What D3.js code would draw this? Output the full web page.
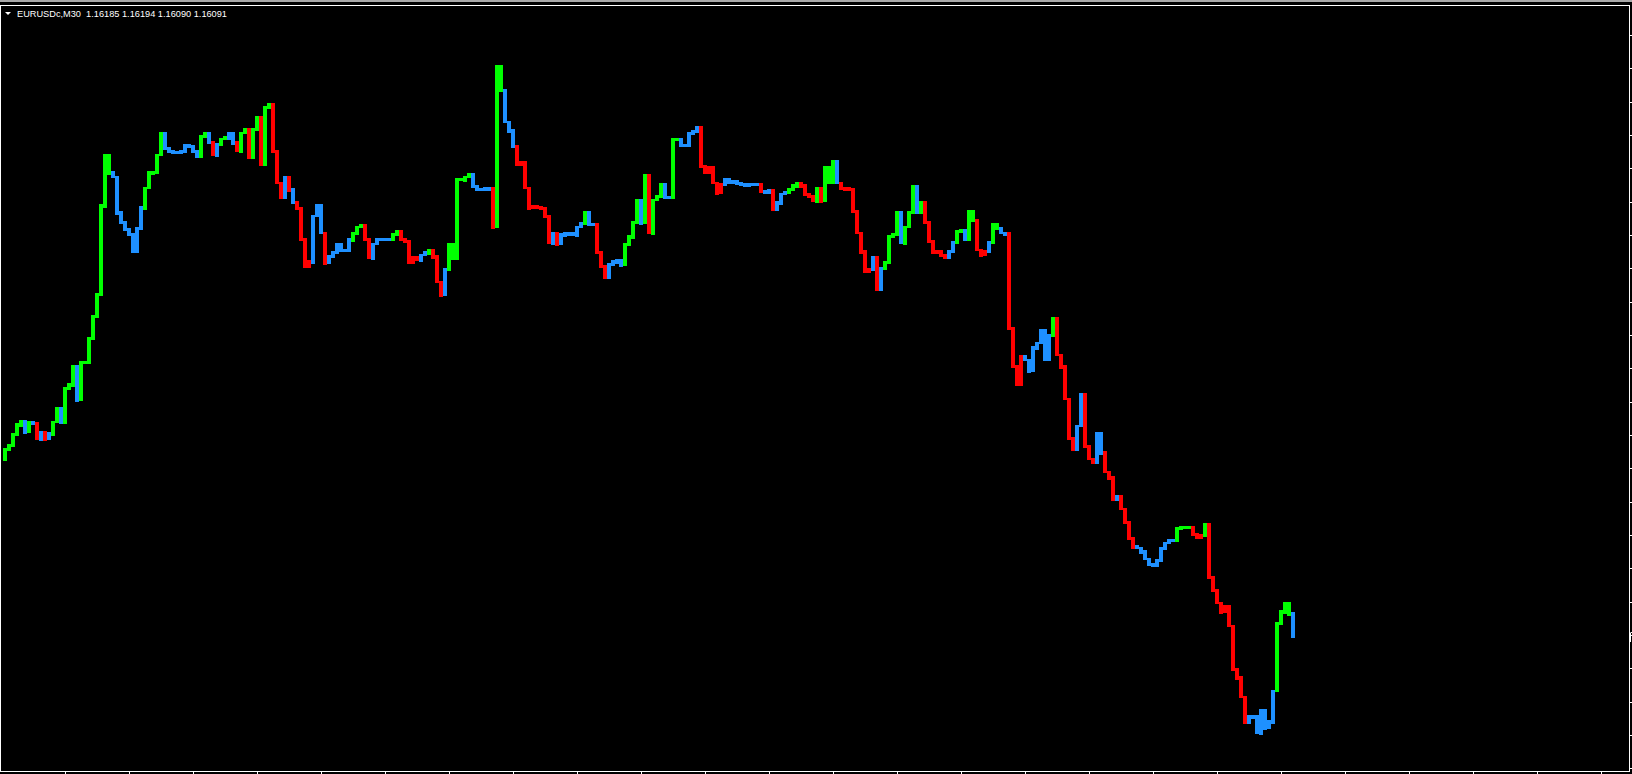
<!DOCTYPE html>
<html>
<head>
<meta charset="utf-8">
<script src="https://cdn.jsdelivr.net/npm/d3@7"></script>
<style>
  html, body { margin: 0; padding: 0; background: #000; overflow: hidden; }
  svg { display: block; }
</style>
</head>
<body>
<svg id="chart"></svg>
<script>
const width = 1632;
const height = 774;

// chart header
const headerText = "EURUSDc,M30  1.16185 1.16194 1.16090 1.16091";

// open of the first bar, then the close of every M30 bar
const firstOpen = 1.16800;
const closes = [
  1.16840, 1.16856, 1.16900, 1.16940, 1.16956, 1.16912, 1.16948, 1.16944, 1.16884, 1.16912,
  1.16884, 1.16904, 1.16952, 1.17004, 1.16948, 1.17084, 1.17100, 1.17176, 1.17040, 1.17188,
  1.17188, 1.17284, 1.17372, 1.17460, 1.17816, 1.18020, 1.17948, 1.17932, 1.17788, 1.17748,
  1.17720, 1.17700, 1.17632, 1.17724, 1.17808, 1.17888, 1.17948, 1.17952, 1.18020, 1.18104,
  1.18044, 1.18032, 1.18028, 1.18028, 1.18032, 1.18056, 1.18052, 1.18032, 1.18012, 1.18092,
  1.18104, 1.18068, 1.18020, 1.18064, 1.18084, 1.18088, 1.18108, 1.18068, 1.18036, 1.18108,
  1.18120, 1.18008, 1.18120, 1.18168, 1.17980, 1.18208, 1.18220, 1.18032, 1.17908, 1.17852,
  1.17932, 1.17880, 1.17828, 1.17804, 1.17680, 1.17572, 1.17592, 1.17776, 1.17816, 1.17708,
  1.17588, 1.17612, 1.17628, 1.17660, 1.17636, 1.17636, 1.17680, 1.17708, 1.17732, 1.17736,
  1.17680, 1.17608, 1.17664, 1.17680, 1.17680, 1.17680, 1.17680, 1.17700, 1.17712, 1.17680,
  1.17672, 1.17588, 1.17608, 1.17600, 1.17620, 1.17628, 1.17640, 1.17612, 1.17512, 1.17460,
  1.17560, 1.17660, 1.17604, 1.17920, 1.17920, 1.17932, 1.17940, 1.17892, 1.17880, 1.17880,
  1.17884, 1.17888, 1.17732, 1.18372, 1.18276, 1.18152, 1.18116, 1.18052, 1.17980, 1.17988,
  1.17888, 1.17808, 1.17812, 1.17808, 1.17804, 1.17772, 1.17668, 1.17708, 1.17664, 1.17700,
  1.17708, 1.17704, 1.17700, 1.17732, 1.17744, 1.17788, 1.17740, 1.17740, 1.17628, 1.17572,
  1.17528, 1.17580, 1.17592, 1.17600, 1.17580, 1.17660, 1.17692, 1.17752, 1.17840, 1.17748,
  1.17936, 1.17708, 1.17840, 1.17852, 1.17900, 1.17848, 1.17848, 1.18080, 1.18080, 1.18056,
  1.18056, 1.18104, 1.18112, 1.18128, 1.17972, 1.17948, 1.17968, 1.17908, 1.17868, 1.17900,
  1.17920, 1.17908, 1.17912, 1.17904, 1.17900, 1.17896, 1.17900, 1.17900, 1.17900, 1.17872,
  1.17868, 1.17876, 1.17800, 1.17828, 1.17864, 1.17868, 1.17880, 1.17896, 1.17908, 1.17896,
  1.17860, 1.17852, 1.17836, 1.17888, 1.17836, 1.17968, 1.17908, 1.17992, 1.17908, 1.17888,
  1.17884, 1.17880, 1.17792, 1.17708, 1.17632, 1.17552, 1.17560, 1.17608, 1.17480, 1.17564,
  1.17588, 1.17692, 1.17700, 1.17788, 1.17668, 1.17732, 1.17788, 1.17892, 1.17788, 1.17828,
  1.17748, 1.17672, 1.17628, 1.17632, 1.17616, 1.17608, 1.17632, 1.17668, 1.17712, 1.17716,
  1.17680, 1.17792, 1.17756, 1.17640, 1.17620, 1.17632, 1.17668, 1.17740, 1.17724, 1.17708,
  1.17704, 1.17324, 1.17172, 1.17100, 1.17212, 1.17200, 1.17156, 1.17248, 1.17268, 1.17316,
  1.17200, 1.17296, 1.17364, 1.17220, 1.17172, 1.17044, 1.16888, 1.16844, 1.16936, 1.17060,
  1.16852, 1.16804, 1.16792, 1.16908, 1.16828, 1.16752, 1.16728, 1.16640, 1.16652, 1.16604,
  1.16552, 1.16488, 1.16452, 1.16448, 1.16432, 1.16404, 1.16384, 1.16380, 1.16400, 1.16448,
  1.16468, 1.16476, 1.16476, 1.16524, 1.16528, 1.16528, 1.16528, 1.16500, 1.16488, 1.16496,
  1.16540, 1.16328, 1.16276, 1.16228, 1.16192, 1.16212, 1.16136, 1.15964, 1.15928, 1.15852,
  1.15752, 1.15776, 1.15772, 1.15708, 1.15800, 1.15728, 1.15752, 1.15876, 1.16144, 1.16192,
  1.16228, 1.16185, 1.16091
];

// trend state of each bar: G = up, R = down, B = flat
const trendCodes = (
  "GGGGGBGBRB" + "RBGGBGGGBG" + "GGGGGGGBBB" + "BBBBBGGGGG" + "BBBBBBBBBG" +
  "GBRBGGBBRG" + "GRGGRGGRRR" + "BRBRRRRBBB" + "RBBBBBBGGG" + "RRBBBBBGGR" +
  "RRRRBBGRRR" + "BGGGGGGBBB" + "BBRGGBBBRR" + "RRRRRRRBRB" + "BBBBBGBBRR" +
  "RBBBBGGGGB" + "GRGGGBBGGB" + "BBBBRRRRRR" + "BBBBBBBBBR" + "BBRBBBGGGR" +
  "RRRGRGGGBR" + "RRRRRRRBRB" + "GGGGBGGGBG" + "RRRRRRBBGG" + "BGGRRRBGGB" +
  "BRRRRBBBBB" + "BBGRRRRRBB" + "RRRBBRRRBR" + "RRRBBBBBBB" + "BBBGGGGRRR" +
  "GRRRRRRRRR" + "RBBBBBBBGG" + "GGB"
).split("");

const trendColors = { G: "#00ff00", R: "#ff0000", B: "#1e90ff" };

// price scale marks (every 0.00133) and time marks (every 16 bars)
const priceTicks = d3.range(23).map(k => 1.18500 - k * 0.0013333);
const timeTicks = d3.range(15, 406, 16).map(i => i + 0.5);

const svg = d3.select("#chart")
    .attr("width", width)
    .attr("height", height);

svg.append("rect")
    .attr("width", width)
    .attr("height", height)
    .attr("fill", "#000");

// window edge at the very top
svg.append("rect")
    .attr("width", width)
    .attr("height", 2)
    .attr("fill", "#a9a9a9");

// scales: 4 px per bar, 0.00004 per px
const xScale = d3.scaleLinear()
    .domain([0, 406])
    .range([3, 3 + 406 * 4]);

const yScale = d3.scaleLinear()
    .domain([1.15544, 1.18640])
    .range([height, 0]);

const bars = closes.map((c, i) => ({
    i: i,
    open: i === 0 ? firstOpen : closes[i - 1],
    close: c,
    code: trendCodes[i]
}));

svg.append("g")
    .attr("shape-rendering", "crispEdges")
    .selectAll("rect")
    .data(bars)
    .enter()
    .append("rect")
    .attr("x", d => Math.round(xScale(d.i)))
    .attr("width", 4)
    .attr("y", d => Math.round(Math.min(yScale(d.open), yScale(d.close)) - 1.5))
    .attr("height", d => Math.round(Math.abs(yScale(d.open) - yScale(d.close)) + 3))
    .attr("fill", d => trendColors[d.code] || "#1e90ff");

// frame
svg.append("rect")
    .attr("x", 0.5)
    .attr("y", 5.5)
    .attr("width", 1629)
    .attr("height", 766)
    .attr("fill", "none")
    .attr("stroke", "#fff")
    .attr("stroke-width", 1)
    .attr("shape-rendering", "crispEdges");

// price axis ticks, labels fall outside the window
const yAxis = d3.axisRight(yScale)
    .tickValues(priceTicks)
    .tickSize(3)
    .tickFormat("");

svg.append("g")
    .attr("transform", "translate(1629, 0)")
    .call(yAxis)
    .call(g => g.select(".domain").remove())
    .call(g => g.selectAll("line").attr("stroke", "#fff").attr("shape-rendering", "crispEdges"));

// time axis ticks
const xAxis = d3.axisBottom(xScale)
    .tickValues(timeTicks)
    .tickSize(3)
    .tickFormat("");

svg.append("g")
    .attr("transform", "translate(0, 771)")
    .call(xAxis)
    .call(g => g.select(".domain").remove())
    .call(g => g.selectAll("line").attr("stroke", "#fff").attr("shape-rendering", "crispEdges"));

// current price marker on the right edge
const bidY = Math.round(yScale(closes[closes.length - 1]));
svg.append("path")
    .attr("d", `M1630.5,${bidY - 4}V${bidY + 5}M1630.5,${bidY - 4.5}H1632`)
    .attr("stroke", "#fff")
    .attr("fill", "none");

// header
svg.append("path")
    .attr("d", "M5,12L11,12L8,15Z")
    .attr("fill", "#fff");

svg.append("text")
    .attr("x", 17)
    .attr("y", 17)
    .attr("fill", "#fff")
    .attr("font-family", "'Liberation Sans', Arial, sans-serif")
    .attr("font-size", "9.5px")
    .attr("textLength", 210)
    .attr("lengthAdjust", "spacingAndGlyphs")
    .style("white-space", "pre")
    .text(headerText);
</script>
</body>
</html>
